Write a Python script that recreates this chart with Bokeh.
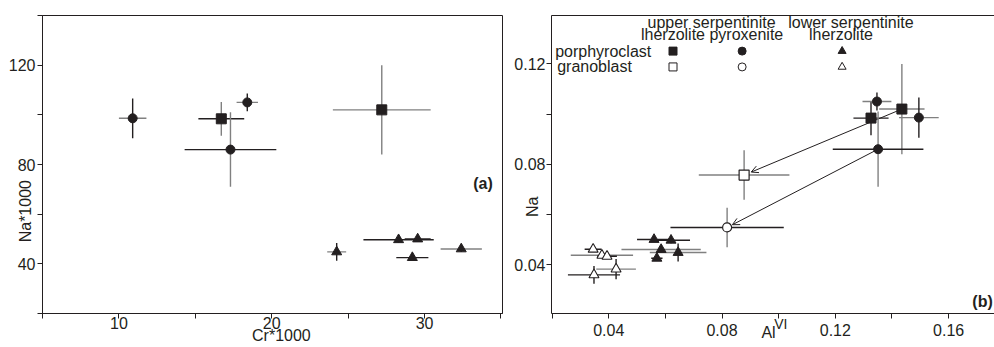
import numpy as np
from bokeh.plotting import figure
from bokeh.layouts import row
from bokeh.models import (Range1d, FixedTicker, PrintfTickFormatter, Arrow,
                          OpenHead, LinearAxis)
from bokeh.core.properties import value
from bokeh.embed import file_html
from bokeh.resources import INLINE

# ---------------- data ----------------
# upper serpentinite lherzolite, porphyroclast (filled squares)
lhz_cr = [16.7, 27.2]
lhz_cr_err = [1.5, 3.2]
lhz_al = [0.1326, 0.1435]
lhz_al_err = [0.0062, 0.0080]
lhz_na = [0.0984, 0.1020]
lhz_na_err = [0.0068, 0.0180]

# upper serpentinite pyroxenite, porphyroclast (filled circles)
pyx_cr = [10.9, 18.4, 17.3]
pyx_cr_err = [0.9, 0.7, 3.0]
pyx_al = [0.1495, 0.1347, 0.1351]
pyx_al_err = [0.0070, 0.0051, 0.0160]
pyx_na = [0.0986, 0.1050, 0.0860]
pyx_na_err = [0.0080, 0.0036, 0.0150]

# lower serpentinite lherzolite, porphyroclast (filled triangles)
low_cr = [24.25, 28.3, 29.55, 29.2, 32.4]
low_cr_err = [0.62, 2.3, 0.85, 1.05, 1.35]
low_al = [0.0645, 0.0620, 0.0560, 0.0570, 0.0585]
low_al_err = [0.0100, 0.0067, 0.0060, 0.0020, 0.0140]
low_na = [0.0448, 0.0497, 0.0500, 0.0425, 0.0460]
low_na_err = [0.0036, 0.0012, 0.0010, 0.0010, 0.0012]

# granoblasts
gr_lhz_al = [0.0878]
gr_lhz_al_err = [0.0160]
gr_lhz_na = [0.0757]
gr_lhz_na_err = [0.0099]

gr_pyx_al = [0.0818]
gr_pyx_al_err = [0.0200]
gr_pyx_na = [0.0548]
gr_pyx_na_err = [0.0079]

gr_low_al = [0.0345, 0.0376, 0.0394, 0.0426, 0.0348]
gr_low_al_err = [0.0030, 0.0110, 0.0035, 0.0070, 0.0092]
gr_low_na = [0.0461, 0.0437, 0.0433, 0.0382, 0.0359]
gr_low_na_err = [0.0010, 0.0010, 0.0010, 0.0040, 0.0035]

x1_ticks = [10, 20, 30]
y1_ticks = [40, 80, 120]
x2_ticks = [0.04, 0.08, 0.12, 0.16]
y2_ticks = [0.04, 0.08, 0.12]

# ---------------- style ----------------
DARK = "#231f20"
GREY = "#808080"
FONT = "Liberation Sans"
FS = "16px"
NB = "\u00a0"


def style_axis(ax):
    ax.axis_line_color = DARK
    ax.major_tick_line_color = DARK
    ax.minor_tick_line_color = DARK
    ax.major_tick_out = 5
    ax.major_tick_in = 0
    ax.minor_tick_out = 5
    ax.minor_tick_in = 0
    ax.major_label_text_font = FONT
    ax.major_label_text_font_size = FS
    ax.major_label_text_color = DARK
    ax.axis_label_text_font = FONT
    ax.axis_label_text_font_size = FS
    ax.axis_label_text_font_style = "normal"
    ax.axis_label_text_color = DARK


def bars(p, x, y, xe, ye, xcol, ycol, lw=1.4):
    x = np.asarray(x, float); y = np.asarray(y, float)
    xe = np.asarray(xe, float); ye = np.asarray(ye, float)
    p.segment(x0=x - xe, y0=y, x1=x + xe, y1=y, line_color=xcol, line_width=lw)
    p.segment(x0=x, y0=y - ye, x1=x, y1=y + ye, line_color=ycol, line_width=lw)


# ---------------- panel (a) ----------------
p1 = figure(width=505, height=347, x_range=Range1d(5, 35.1), y_range=Range1d(20, 140),
            output_backend="svg", toolbar_location=None,
            min_border_left=42, min_border_right=3, min_border_top=15, min_border_bottom=34)
p1.xgrid.visible = False
p1.ygrid.visible = False
p1.outline_line_color = DARK
p1.outline_line_alpha = 1
bx1 = p1.below[0]
ly1 = p1.left[0]
style_axis(bx1)
style_axis(ly1)
bx1.ticker = FixedTicker(ticks=x1_ticks, minor_ticks=[5, 15, 25, 35])
ly1.ticker = FixedTicker(ticks=y1_ticks, minor_ticks=[20, 60, 100, 140])
bx1.major_label_standoff = -2
ly1.major_label_standoff = 2
bx1.axis_label = NB * 4 + "Cr*1000"
bx1.axis_label_standoff = -5
ly1.axis_label = "Na*1000" + NB * 21
ly1.axis_label_standoff = -28

k = 1000.0
bars(p1, lhz_cr, np.array(lhz_na) * k, lhz_cr_err, np.array(lhz_na_err) * k,
     [DARK, GREY], [GREY, GREY])
bars(p1, pyx_cr, np.array(pyx_na) * k, pyx_cr_err, np.array(pyx_na_err) * k,
     [GREY, GREY, DARK], [DARK, DARK, GREY])
bars(p1, low_cr, np.array(low_na) * k, low_cr_err, np.array(low_na_err) * k,
     [GREY, DARK, DARK, DARK, GREY], [DARK] * 5)
p1.scatter(lhz_cr, np.array(lhz_na) * k, marker="square", size=10, fill_color=DARK, line_color=DARK)
p1.scatter(pyx_cr, np.array(pyx_na) * k, marker="circle", size=9, fill_color=DARK, line_color=DARK)
p1.scatter(low_cr, np.array(low_na) * k, marker="triangle", size=10, fill_color=DARK, line_color=DARK)

p1.text(x=[33.18], y=[72.3], text=["(a)"], text_font=value(FONT), text_font_size=value(FS),
        text_font_style="bold", text_align="left", text_baseline="middle", text_color=DARK)

# ---------------- panel (b) ----------------
p2 = figure(width=489, height=347, x_range=Range1d(0.0198, 0.1762), y_range=Range1d(0.0205, 0.1393),
            output_backend="svg", toolbar_location=None,
            min_border_left=46, min_border_right=0, min_border_top=15, min_border_bottom=31)
p2.xgrid.visible = False
p2.ygrid.visible = False
p2.outline_line_color = None
bx2 = p2.below[0]
ly2 = p2.left[0]
style_axis(bx2)
style_axis(ly2)
bx2.ticker = FixedTicker(ticks=x2_ticks, minor_ticks=[0.02, 0.06, 0.10, 0.14])
ly2.ticker = FixedTicker(ticks=y2_ticks, minor_ticks=[0.02, 0.06, 0.10, 0.14])
bx2.formatter = PrintfTickFormatter(format="%.2f")
ly2.formatter = PrintfTickFormatter(format="%.2f")
bx2.major_label_standoff = 5
ly2.major_label_standoff = 1
ly2.axis_label = "Na" + NB * 19
ly2.axis_label_standoff = -30
bx2.axis_label = "Al" + NB * 2
bx2.axis_label_standoff = -15

# superscript "VI" as the label of an invisible second bottom axis
sup = LinearAxis(ticker=FixedTicker(ticks=[]), axis_line_color=None,
                 major_tick_line_color=None, minor_tick_line_color=None,
                 major_tick_out=0, minor_tick_out=0, major_label_standoff=0,
                 axis_label=NB * 4 + "VI", axis_label_standoff=-28,
                 axis_label_text_font=FONT, axis_label_text_font_size="14px",
                 axis_label_text_font_style="normal", axis_label_text_color=DARK)
p2.add_layout(sup, "below")

# top frame line
top = LinearAxis(ticker=FixedTicker(ticks=[]), axis_line_color=DARK,
                 major_tick_line_color=None, minor_tick_line_color=None,
                 major_tick_out=0, minor_tick_out=0)
p2.add_layout(top, "above")

# arrows porphyroclast -> granoblast
for (ax_, ay_), (bx_, by_), f in [((lhz_al[1], lhz_na[1]), (gr_lhz_al[0], gr_lhz_na[0]), 0.045),
                                  ((pyx_al[2], pyx_na[2]), (gr_pyx_al[0], gr_pyx_na[0]), 0.035)]:
    ex = bx_ + (ax_ - bx_) * f
    ey = by_ + (ay_ - by_) * f
    p2.add_layout(Arrow(end=OpenHead(size=7, line_width=1, line_color=DARK),
                        x_start=ax_, y_start=ay_, x_end=ex, y_end=ey,
                        line_width=1, line_color=DARK, level="underlay"))

bars(p2, lhz_al, lhz_na, lhz_al_err, lhz_na_err, [DARK, GREY], [DARK, GREY])
bars(p2, pyx_al, pyx_na, pyx_al_err, pyx_na_err, [GREY, GREY, DARK], [DARK, DARK, GREY])
bars(p2, low_al, low_na, low_al_err, low_na_err, [GREY, DARK, DARK, DARK, GREY], [DARK] * 5)
bars(p2, gr_lhz_al, gr_lhz_na, gr_lhz_al_err, gr_lhz_na_err, [GREY], [GREY])
bars(p2, gr_pyx_al, gr_pyx_na, gr_pyx_al_err, gr_pyx_na_err, [DARK], [GREY])
bars(p2, gr_low_al, gr_low_na, gr_low_al_err, gr_low_na_err,
     [DARK, GREY, DARK, GREY, DARK], [DARK] * 5)

p2.scatter(lhz_al, lhz_na, marker="square", size=10, fill_color=DARK, line_color=DARK)
p2.scatter(pyx_al, pyx_na, marker="circle", size=9, fill_color=DARK, line_color=DARK)
p2.scatter(low_al, low_na, marker="triangle", size=10, fill_color=DARK, line_color=DARK)
p2.scatter(gr_lhz_al, gr_lhz_na, marker="square", size=10, fill_color="white", line_color=DARK, line_width=1.2)
p2.scatter(gr_pyx_al, gr_pyx_na, marker="circle", size=9, fill_color="white", line_color=DARK, line_width=1.2)
p2.scatter(gr_low_al, gr_low_na, marker="triangle", size=10, fill_color="white", line_color=DARK, line_width=1.1)

# legend (drawn as text + markers inside the frame)
txt = dict(text_font=value(FONT), text_font_size=value(FS), text_color=DARK, text_baseline="middle")
p2.text(x=[0.0763, 0.0765, 0.1255, 0.1220], y=[0.1367, 0.1318, 0.1367, 0.1318],
        text=["upper serpentinite", "lherzolite pyroxenite", "lower serpentinite", "lherzolite"],
        text_align="center", **txt)
p2.text(x=[0.0211, 0.0218], y=[0.1251, 0.1188], text=["porphyroclast", "granoblast"],
        text_align="left", **txt)
p2.scatter([0.0627], [0.1251], marker="square", size=8, fill_color=DARK, line_color=DARK)
p2.scatter([0.0871], [0.1251], marker="circle", size=8, fill_color=DARK, line_color=DARK)
p2.scatter([0.1224], [0.1251], marker="triangle", size=8, fill_color=DARK, line_color=DARK)
p2.scatter([0.0627], [0.1188], marker="square", size=8, fill_color="white", line_color=DARK)
p2.scatter([0.0871], [0.1188], marker="circle", size=8, fill_color="white", line_color=DARK)
p2.scatter([0.1224], [0.1188], marker="triangle", size=8, fill_color="white", line_color=DARK)

p2.text(x=[0.1756], y=[0.0252], text=["(b)"], text_font=value(FONT), text_font_size=value(FS),
        text_font_style="bold", text_align="right", text_baseline="middle", text_color=DARK)

layout = row(p1, p2)
open("out.html", "w").write(file_html(layout, INLINE))
